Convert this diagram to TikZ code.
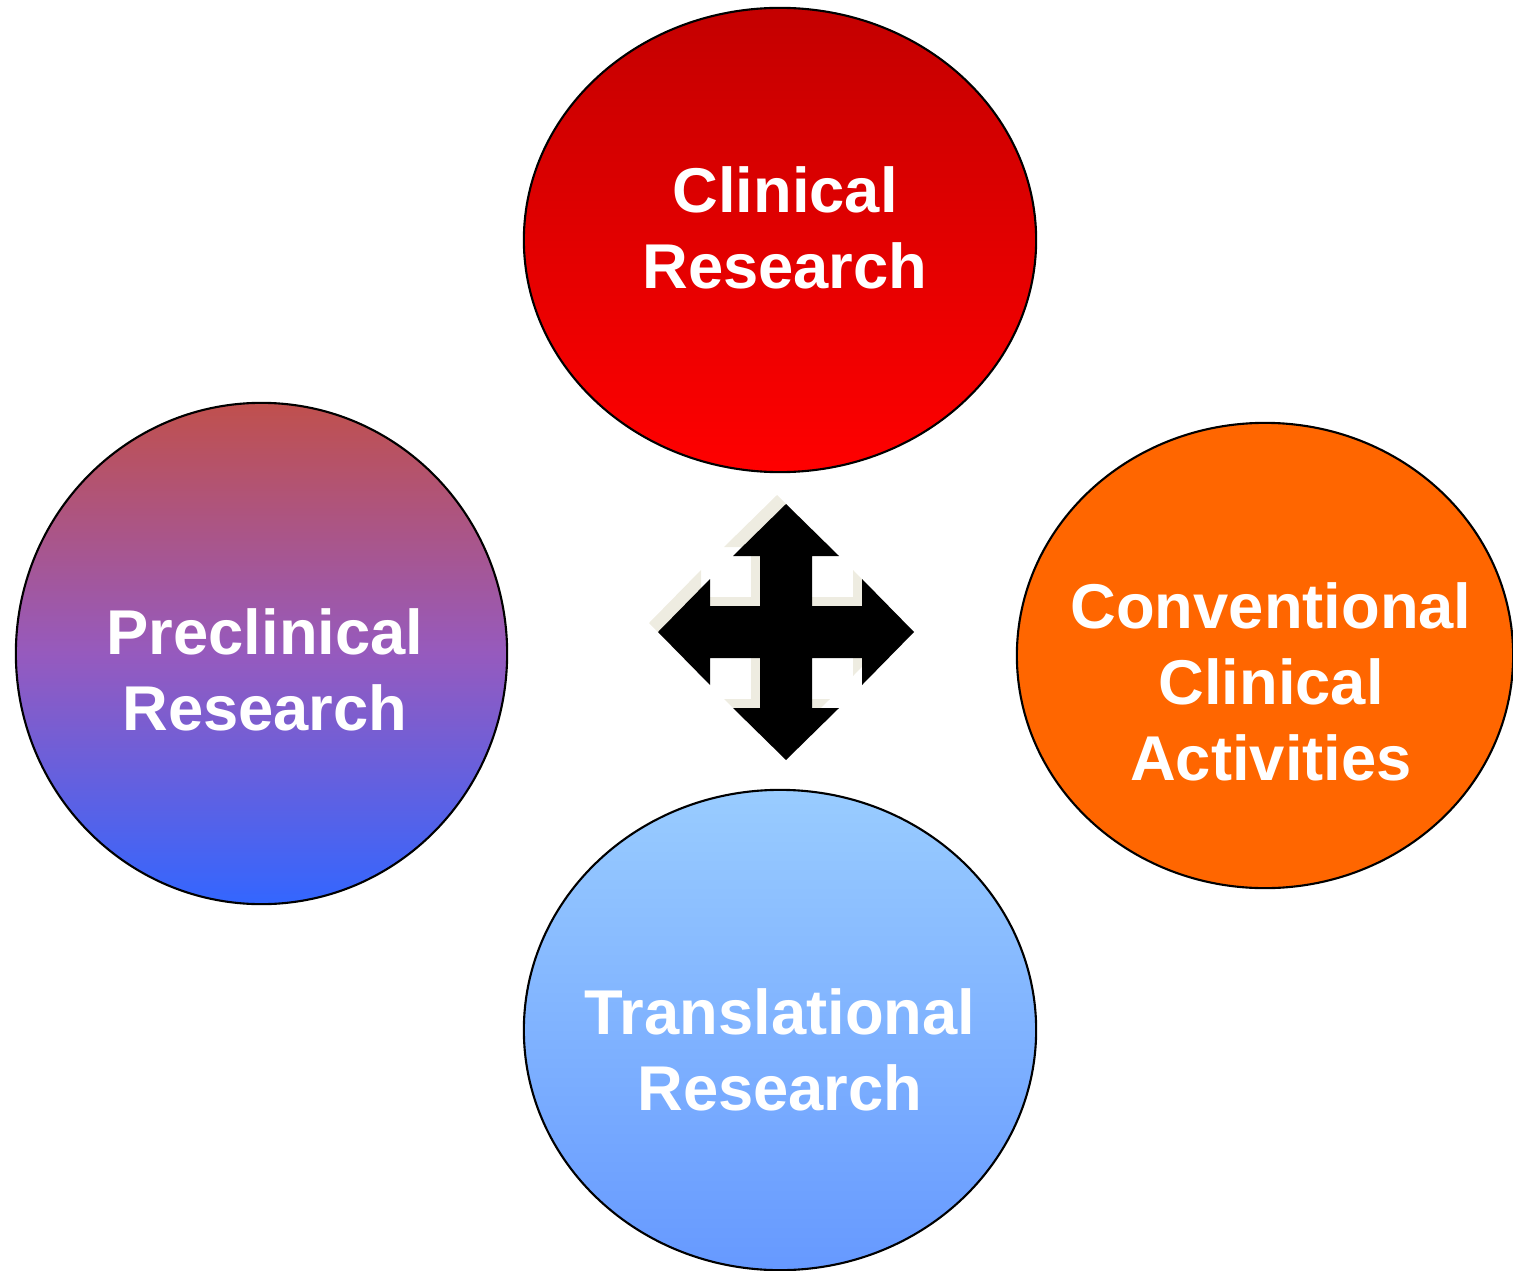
\documentclass[tikz,border=0pt]{standalone}
\usepackage{fontspec}
\setmainfont{Liberation Sans}
\usetikzlibrary{shapes.geometric}
\definecolor{clinicaltop}{RGB}{196,0,0}
\definecolor{clinicalbottom}{RGB}{255,0,0}
\definecolor{preclintop}{RGB}{192,80,77}
\definecolor{preclinmid}{RGB}{150,90,190}
\definecolor{preclinbottom}{RGB}{51,102,255}
\definecolor{transtop}{RGB}{153,204,255}
\definecolor{transbottom}{RGB}{102,153,255}
\definecolor{conventional}{RGB}{255,102,0}
\definecolor{arrowshadow}{RGB}{238,236,225}

\begin{document}
\begin{tikzpicture}[x=0.01cm, y=-0.01cm,
  blob/.style={ellipse, draw=black, line width=0.6pt, inner sep=0pt},
  blobtext/.style={text=white, align=center,
    font=\bfseries\fontsize{18}{21.6}\selectfont}]
  \useasboundingbox (0,0) rectangle (1513,1270);

  \node[blob, minimum width=5.12cm, minimum height=4.64cm,
    top color=clinicaltop, bottom color=clinicalbottom] (clinical) at (780,240) {};
  \node[blob, minimum width=4.91cm, minimum height=5.01cm,
    top color=preclintop, bottom color=preclinbottom, middle color=preclinmid] (preclinical) at (261.5,653.5) {};
  \node[blob, minimum width=4.96cm, minimum height=4.65cm,
    fill=conventional] (conventional) at (1265,655.5) {};
  \node[blob, minimum width=5.12cm, minimum height=4.80cm,
    top color=transtop, bottom color=transbottom] (translational) at (780,1030) {};

  \node[blobtext] (clinicaltext) at (785,228) {Clinical\\Research};
  \node[blobtext] (preclinicaltext) at (265,670) {Preclinical\\Research};
  \node[blobtext] (conventionaltext) at (1271,682) {Conventional\\Clinical\\Activities};
  \node[blobtext] (translationaltext) at (780,1050) {Translational\\Research};

  % four-way arrow in the middle
  \begin{scope}[shift={(786,632)}]
    \foreach \d/\c in {-9/arrowshadow, 0/black}
      \fill[\c, shift={(\d,\d)}] (0,-128) -- (53,-76) -- (26,-76) -- (26,-26)
        -- (76,-26) -- (76,-53) -- (128,0) -- (76,53) -- (76,26) -- (26,26)
        -- (26,76) -- (53,76) -- (0,128) -- (-53,76) -- (-26,76) -- (-26,26)
        -- (-76,26) -- (-76,53) -- (-128,0) -- (-76,-53) -- (-76,-26)
        -- (-26,-26) -- (-26,-76) -- (-53,-76) -- cycle;
  \end{scope}
\end{tikzpicture}
\end{document}
